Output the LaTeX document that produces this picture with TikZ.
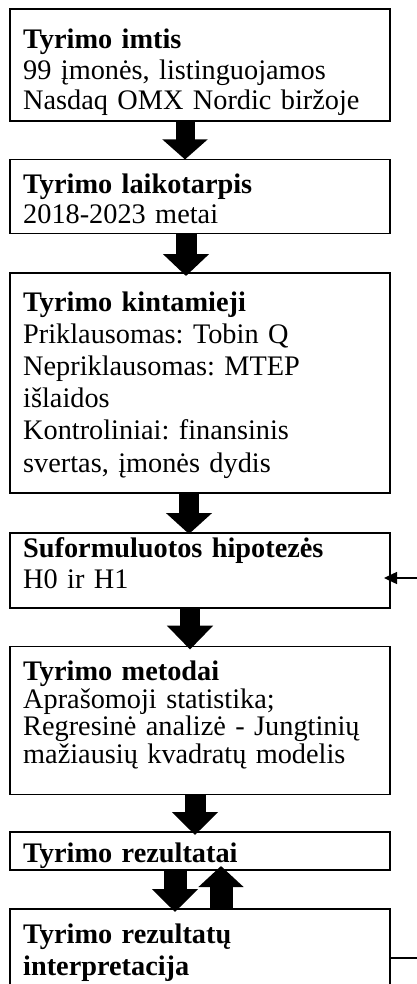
\documentclass[tikz,border=0pt]{standalone}
\usepackage{fontspec}
\setmainfont{Liberation Serif}
\usetikzlibrary{arrows.meta,calc}
\tikzset{
  boxnode/.style={draw=black, line width=1.4pt, minimum width=380pt, inner sep=0pt, outer sep=0pt},
  txt/.style={anchor=base west, inner sep=0pt, text width=375pt, align=left, font=\fontsize{28.3}{#1}\selectfont\frenchspacing},
  txt/.default=32,
  blockarrow/.style args={#1/#2/#3}{line width=#1pt, -{Triangle[width=#2pt,length=#3pt]}},
  thinarrow/.style={line width=1.5pt, -{Triangle[width=12pt,length=13pt]}},
  thinline/.style={line width=1.5pt}
}
\begin{document}
\begin{tikzpicture}[x=1pt,y=-1pt]
\useasboundingbox (0,0) rectangle (417,984);
\clip (0,0) rectangle (417,984);
\fill[white] (0,0) rectangle (417,984);
% boxes
\node[boxnode, minimum height=112pt] (b1) at (200,65) {};
\node[boxnode, minimum height=74pt] (b2) at (200,196.5) {};
\node[boxnode, minimum height=220pt] (b3) at (200,383) {};
\node[boxnode, minimum height=75pt] (b4) at (200,570.5) {};
\node[boxnode, minimum height=148pt] (b5) at (200,720.5) {};
\node[boxnode, minimum height=38pt] (b6) at (200,851) {};
\node[boxnode, minimum height=100pt] (b7) at (200,959) {};
% texts
\node[txt=30.5] (t1) at ($(b1.north west)+(13,40)$) {\textbf{Tyrimo imtis}\\99 įmonės, listinguojamos\\Nasdaq OMX Nordic biržoje};
\node[txt=30] (t2) at ($(b2.north west)+(13,34)$) {\textbf{Tyrimo laikotarpis}\\2018-2023 metai};
\node[txt=32.2] (t3) at ($(b3.north west)+(13,38)$) {\textbf{Tyrimo kintamieji}\\Priklausomas: Tobin Q\\Nepriklausomas: MTEP\\išlaidos\\Kontroliniai: finansinis\\svertas, įmonės dydis};
\node[txt=31] (t4) at ($(b4.north west)+(13,24)$) {\textbf{Suformuluotos hipotezės}\\H0 ir H1};
\node[txt=27.5] (t5) at ($(b5.north west)+(13,34)$) {\textbf{Tyrimo metodai}\\Aprašomoji statistika;\\Regresinė analizė - Jungtinių\\mažiausių kvadratų modelis};
\node[txt] (t6) at ($(b6.north west)+(13,30)$) {\textbf{Tyrimo rezultatai}};
\node[txt=32] (t7) at ($(b7.north west)+(13,34)$) {\textbf{Tyrimo rezultatų}\\\textbf{interpretacija}};
% block arrows
\draw[blockarrow=19/44/20] ($(b1.south)+(-15,0)$) -- ($(b2.north)+(-15,0)$);
\draw[blockarrow=21/45/22] ($(b2.south)+(-14,0)$) -- ($(b3.north)+(-14,3)$);
\draw[blockarrow=20/45/21] ($(b3.south)+(-11,0)$) -- ($(b4.north)+(-11,1)$);
\draw[blockarrow=20/45/24] ($(b4.south)+(-10,0)$) -- ($(b5.north)+(-10,3)$);
\draw[blockarrow=21/45/23] ($(b5.south)+(-5,0)$) -- ($(b6.north)+(-5,3)$);
\draw[blockarrow=23/45/23] ($(b6.south)+(-25,0)$) -- ($(b7.north)+(-25,3)$);
\draw[blockarrow=23/44/21] ($(b7.north)+(21,0)$) -- ($(b6.south)+(21,-4)$);
% side connectors
\coordinate (r1) at (417,578);
\coordinate (r2) at (417,958);
\draw[thinarrow] (r1) -- ($(b4.east |- r1)+(-6,0)$);
\draw[thinline] (r2) -- (b7.east |- r2);
\end{tikzpicture}
\end{document}
